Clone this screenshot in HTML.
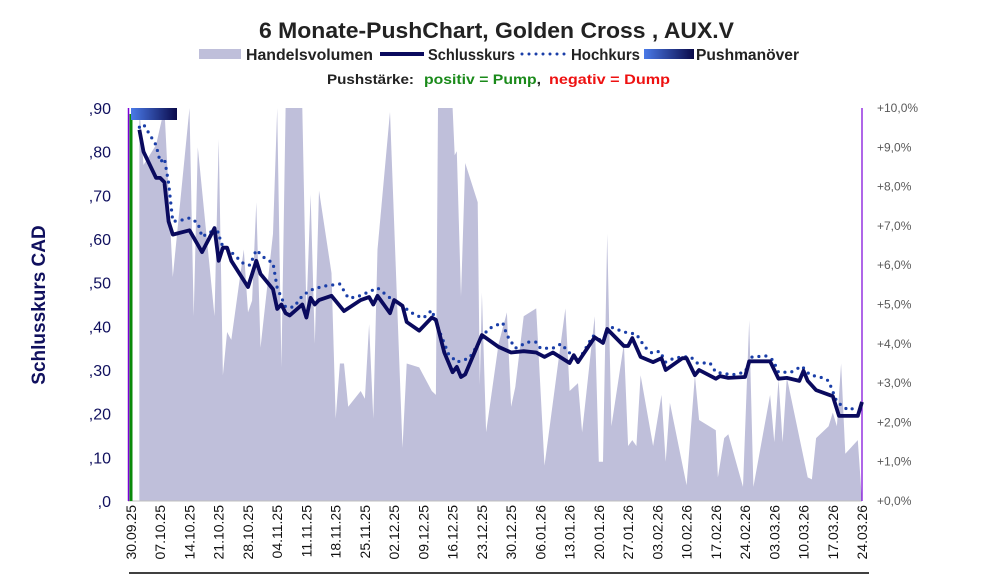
<!DOCTYPE html>
<html><head><meta charset="utf-8"><style>
html,body{margin:0;padding:0;background:#fff;width:991px;height:587px;overflow:hidden}
svg{display:block;font-family:"Liberation Sans",sans-serif}
</style></head><body>
<svg id="chart" width="991" height="587" viewBox="0 0 991 587">
<defs>
<linearGradient id="pg" x1="0" x2="1" y1="0" y2="0"><stop offset="0" stop-color="#4a7ae8"/><stop offset="1" stop-color="#0a0a4a"/></linearGradient>
</defs>
<text x="259" y="38" textLength="475" lengthAdjust="spacingAndGlyphs" font-size="22" font-weight="bold" fill="#222">6 Monate-PushChart, Golden Cross , AUX.V</text>
<g font-size="16" font-weight="bold" fill="#222">
<rect x="199" y="49" width="42" height="10" fill="#bfbfda"/>
<text x="246" y="60" textLength="127" lengthAdjust="spacingAndGlyphs">Handelsvolumen</text>
<line x1="380" y1="54" x2="424" y2="54" stroke="#0a0a5e" stroke-width="4"/>
<text x="428" y="60" textLength="87" lengthAdjust="spacingAndGlyphs">Schlusskurs</text>
<line x1="522" y1="54" x2="565" y2="54" stroke="#1a3ea8" stroke-width="3" stroke-dasharray="0 7" stroke-linecap="round"/>
<text x="571" y="60" textLength="69" lengthAdjust="spacingAndGlyphs">Hochkurs</text>
<rect x="644" y="49" width="50" height="10" fill="url(#pg)"/>
<text x="696" y="60" textLength="103" lengthAdjust="spacingAndGlyphs">Pushmanöver</text>
</g>
<g font-size="14" font-weight="bold">
<text x="327" y="84" textLength="87" lengthAdjust="spacingAndGlyphs" fill="#222">Pushstärke:</text>
<text x="424" y="84" textLength="117" lengthAdjust="spacingAndGlyphs" fill="#1a8a1a">positiv = Pump<tspan fill="#222">,</tspan></text>
<text x="549" y="84" textLength="121" lengthAdjust="spacingAndGlyphs" fill="#ee1111">negativ = Dump</text>
</g>
<text transform="translate(45,305) rotate(-90)" text-anchor="middle" font-size="19" font-weight="bold" fill="#10105e">Schlusskurs CAD</text>
<g id="plot"></g>
</svg>
<script>
const closeDays=[2,3,6,7,8,9,10,14,17,20,21,22,23,24,28,30,31,34,35,36,37,38,41,42,43,44,45,48,51,55,57,58,59,62,63,65,66,69,72,73,75,77,78,79,80,84,88,91,94,97,99,101,105,106,107,111,113,114,118,119,120,122,125,127,128,132,133,135,136,140,141,143,147,148,153,155,157,160,161,162,164,168,169.5,174,175];
const closeVals=[0.85,0.80,0.74,0.74,0.73,0.64,0.61,0.62,0.57,0.625,0.55,0.58,0.58,0.55,0.49,0.55,0.52,0.485,0.44,0.45,0.43,0.425,0.45,0.42,0.465,0.45,0.46,0.47,0.435,0.46,0.467,0.45,0.47,0.43,0.46,0.447,0.41,0.39,0.42,0.415,0.34,0.295,0.307,0.284,0.29,0.38,0.353,0.34,0.343,0.34,0.33,0.34,0.316,0.334,0.318,0.375,0.362,0.394,0.355,0.355,0.373,0.33,0.318,0.327,0.30,0.327,0.327,0.288,0.30,0.28,0.286,0.282,0.284,0.32,0.32,0.28,0.282,0.275,0.298,0.275,0.254,0.24,0.195,0.195,0.227];
const highDays=[2,3,6,7,8,9,10,12,14,16,17,19,21,21.5,24,27,28.5,30,32,34,35,37,39,41,43,46,50,52,54,57,59,62,64,68,70,72,74,76,78,81,84,85.5,87.6,89,90,92,95,97,98,101,103,104.6,107,110.6,112.8,115,118,121,123,124.7,126.6,128,130,132,134,135.5,138.6,140,144,147,148.7,152,153.7,155,158,160.6,162.5,165.7,167,169,171.7,173.8];
const highVals=[0.856,0.863,0.815,0.776,0.785,0.728,0.64,0.643,0.648,0.637,0.605,0.616,0.616,0.59,0.57,0.543,0.54,0.575,0.556,0.545,0.488,0.444,0.444,0.47,0.483,0.492,0.497,0.465,0.467,0.479,0.488,0.465,0.453,0.426,0.419,0.437,0.385,0.337,0.318,0.327,0.373,0.394,0.403,0.408,0.38,0.35,0.364,0.364,0.35,0.35,0.36,0.343,0.32,0.378,0.366,0.398,0.387,0.382,0.353,0.339,0.343,0.318,0.327,0.33,0.33,0.316,0.316,0.295,0.289,0.295,0.33,0.332,0.323,0.295,0.295,0.309,0.289,0.282,0.275,0.227,0.208,0.215];
const volDays=[2,3,6,8,10,14,15,16,20,21,22,23,24,27,28,29,30,31,34,35,36,37,41,42,43,44,45,48,49,50,51,52,55,56,57,58,59,62,65,66,69,72,73,73.5,77,77.5,78,79,80,83,83.5,84,85,88,90,91,92,94,97,99,104,105,107,108,111,112,113,114,115,118,119,120,121,122,125,127,128,129,133,135,136,140,140.5,142,143,146.5,148,149,153,154,155,156,157,162,163,164,167,168,169,170,171,174,175];
const volVals=[10,8.55,9.06,10,5.7,10,4.7,9.0,4.7,9.2,3.2,4.3,4.1,6.4,4.8,5.1,7.6,3.9,6.8,10,3.4,10,10,4.8,7.8,4.0,7.9,5.8,2.1,3.5,3.5,2.4,2.8,2.6,4.5,2.1,6.4,9.9,1.35,3.5,3.4,2.8,2.7,10,10,8.8,8.9,5.2,8.6,7.6,2.95,5.3,1.75,4.0,4.8,2.4,2.9,4.7,4.9,0.9,4.9,2.8,3.0,1.75,4.7,1.0,1.0,6.8,1.9,4.0,1.4,1.55,1.4,3.2,1.4,2.7,1.0,2.5,0.4,3.2,2.06,1.8,0.6,1.6,1.7,0.36,4.6,0.36,2.7,1.5,3.1,1.5,3.15,0.6,0.55,1.6,1.9,2.25,1.9,3.5,1.2,1.55,0];
const leftTicks=[0,0.1,0.2,0.3,0.4,0.5,0.6,0.7,0.8,0.9];
const leftTickLabels=[",0",",10",",20",",30",",40",",50",",60",",70",",80",",90"];
const rightTicks=[0,1,2,3,4,5,6,7,8,9,10];
const dateLabels=["30.09.25","07.10.25","14.10.25","21.10.25","28.10.25","04.11.25","11.11.25","18.11.25","25.11.25","02.12.25","09.12.25","16.12.25","23.12.25","30.12.25","06.01.26","13.01.26","20.01.26","27.01.26","03.02.26","10.02.26","17.02.26","24.02.26","03.03.26","10.03.26","17.03.26","24.03.26"];

const X0=131,X1=862,Y0=501,Y1=108,NS="http://www.w3.org/2000/svg";
const xs=d=>X0+d*(X1-X0)/175;
const yL=v=>Y0-v/0.9*(Y0-Y1);
const yR=p=>Y0-Math.min(p,10)/10*(Y0-Y1);
const plot=document.getElementById('plot');
function mk(tag,attrs){const e=document.createElementNS(NS,tag);for(const k in attrs)e.setAttribute(k,attrs[k]);plot.appendChild(e);return e;}

let vp=`M${xs(volDays[0])},${Y0}`;
volDays.forEach((d,i)=>{vp+=` L${xs(d).toFixed(1)},${yR(volVals[i]).toFixed(1)}`;});
vp+=` L${xs(volDays[volDays.length-1])},${Y0} Z`;
const va=mk('path',{d:vp,fill:'#bfbfda'});



const ax=mk('line',{x1:128,y1:Y0,x2:X1,y2:Y0,stroke:'#bfbfbf','stroke-width':1});


const lp=mk('line',{x1:128.5,y1:Y1,x2:128.5,y2:Y0,stroke:'#7a00d8','stroke-width':1.5});


const gl=mk('line',{x1:131,y1:Y1+6,x2:131,y2:Y0,stroke:'#0a8a0a','stroke-width':3});


const rp=mk('line',{x1:X1,y1:Y1,x2:X1,y2:Y0,stroke:'#7a00d8','stroke-width':1.2});


const pr=mk('rect',{x:131,y:Y1,width:46,height:12,fill:'url(#pg)'});



const hp=mk('path',{d:highDays.map((d,i)=>(i?'L':'M')+xs(d).toFixed(1)+','+yL(highVals[i]).toFixed(1)).join(' '),fill:'none',stroke:'#1a3ea8','stroke-width':3.2,'stroke-dasharray':'0 7','stroke-linecap':'round'});


const cp=mk('path',{d:closeDays.map((d,i)=>(i?'L':'M')+xs(d).toFixed(1)+','+yL(closeVals[i]).toFixed(1)).join(' '),fill:'none',stroke:'#0a0a5e','stroke-width':3.8,'stroke-linejoin':'round'});



leftTicks.forEach((v,i)=>{
  const t=mk('text',{x:111,y:yL(v)+6,'text-anchor':'end','font-size':16,fill:'#10105e'});
  t.textContent=leftTickLabels[i];
  
  
});
rightTicks.forEach(p=>{
  const t=mk('text',{x:877,y:yR(p)+4,'font-size':12,fill:'#595959'});
  t.textContent='+'+p.toFixed(1).replace('.',',')+'%';
  
  
});
dateLabels.forEach((s,i)=>{
  const x=xs(i*7)+5;
  const t=mk('text',{transform:`translate(${x.toFixed(1)},505) rotate(-90)`,'text-anchor':'end','font-size':14,fill:'#111'});
  t.textContent=s;
  
  
});
const ul=mk('line',{x1:129,y1:573,x2:869,y2:573,stroke:'#000','stroke-width':1.5});


</script>
</body></html>
